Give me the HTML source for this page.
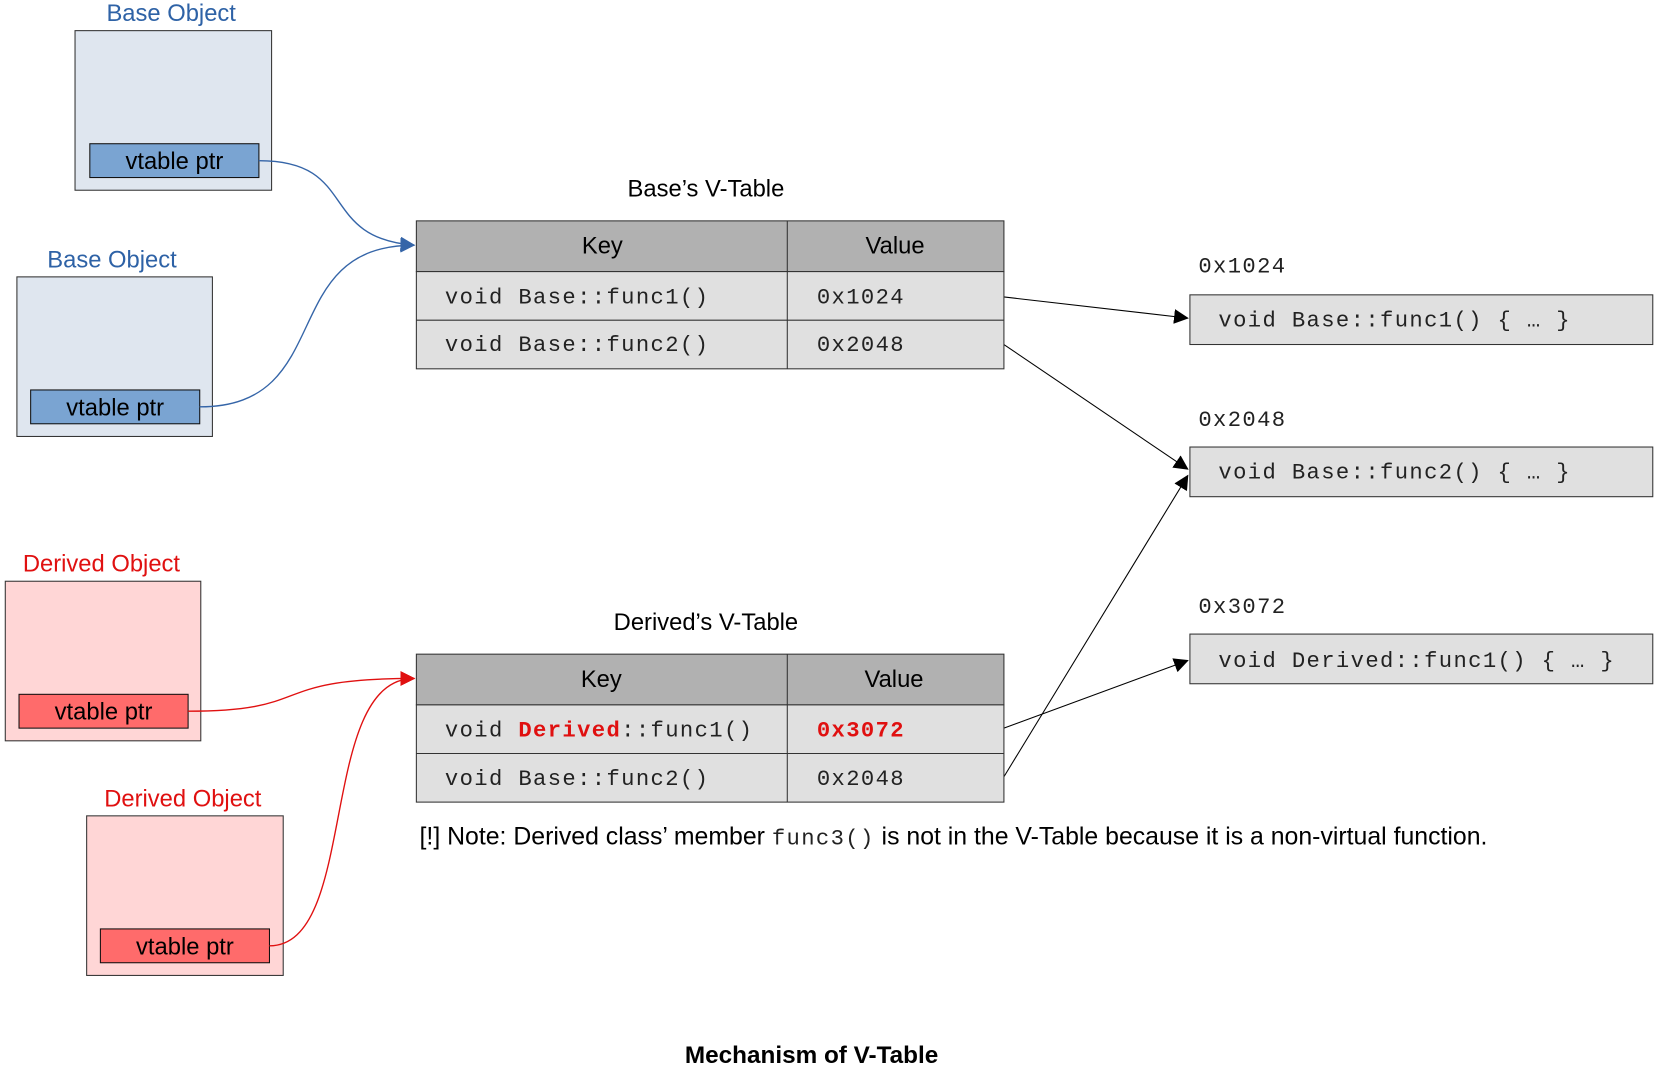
<!DOCTYPE html>
<html><head><meta charset="utf-8"><style>html,body{margin:0;padding:0;background:#fff;}svg{display:block}</style></head>
<body>
<svg width="1657" height="1068" viewBox="0 0 1568 1010.6" preserveAspectRatio="none" xmlns="http://www.w3.org/2000/svg">
<defs>
<marker id="ab" markerWidth="14" markerHeight="14" refX="13" refY="7" orient="auto" markerUnits="userSpaceOnUse"><path d="M0,0 L14,7 L0,14 z" fill="#3565a8"/></marker>
<marker id="ar" markerWidth="14" markerHeight="14" refX="13" refY="7" orient="auto" markerUnits="userSpaceOnUse"><path d="M0,0 L14,7 L0,14 z" fill="#e01010"/></marker>
<marker id="ak" markerWidth="14" markerHeight="14" refX="13" refY="7" orient="auto" markerUnits="userSpaceOnUse"><path d="M0,0 L14,7 L0,14 z" fill="#000"/></marker>
</defs>
<style>.m{font-family:"Liberation Mono",monospace;font-size:21px;letter-spacing:1.3px;fill:#222}</style>
<g font-family="Liberation Sans, sans-serif" font-size="22.5">
<text x="162" y="20" text-anchor="middle" fill="#2e62a6">Base Object</text>
<rect x="71" y="29" width="186" height="151" fill="#dfe6ef" stroke="#333"/>
<rect x="85" y="136" width="160" height="32" fill="#7aa4d2" stroke="#111"/>
<text x="165" y="160" text-anchor="middle">vtable ptr</text>
<text x="106" y="253" text-anchor="middle" fill="#2e62a6">Base Object</text>
<rect x="16" y="262" width="185" height="151" fill="#dfe6ef" stroke="#333"/>
<rect x="29" y="369" width="160" height="32" fill="#7aa4d2" stroke="#111"/>
<text x="109" y="393" text-anchor="middle">vtable ptr</text>
<text x="96" y="541" text-anchor="middle" fill="#e01010">Derived Object</text>
<rect x="5" y="550" width="185" height="151" fill="#ffd6d6" stroke="#333"/>
<rect x="18" y="657" width="160" height="32" fill="#ff6b6b" stroke="#111"/>
<text x="98" y="681" text-anchor="middle">vtable ptr</text>
<text x="173" y="763" text-anchor="middle" fill="#e01010">Derived Object</text>
<rect x="82" y="772" width="186" height="151" fill="#ffd6d6" stroke="#333"/>
<rect x="95" y="879" width="160" height="32" fill="#ff6b6b" stroke="#111"/>
<text x="175" y="903" text-anchor="middle">vtable ptr</text>
<path d="M245,152 C340,152 300,225 392,232" fill="none" stroke="#3565a8" stroke-width="1.3" marker-end="url(#ab)"/>
<path d="M189,385 C320,385 260,232 392,232" fill="none" stroke="#3565a8" stroke-width="1.3" marker-end="url(#ab)"/>
<path d="M178,673 C300,673 250,642 392,642" fill="none" stroke="#e01010" stroke-width="1.3" marker-end="url(#ar)"/>
<path d="M255,895 C340,895 300,642 392,642" fill="none" stroke="#e01010" stroke-width="1.3" marker-end="url(#ar)"/>
<line x1="950" y1="281" x2="1124" y2="301" stroke="#000" marker-end="url(#ak)"/>
<line x1="950" y1="326" x2="1124" y2="444" stroke="#000" marker-end="url(#ak)"/>
<line x1="950" y1="689" x2="1124" y2="625" stroke="#000" marker-end="url(#ak)"/>
<line x1="950" y1="735" x2="1124" y2="450" stroke="#000" marker-end="url(#ak)"/>
<text x="668" y="186" text-anchor="middle">Base’s V-Table</text>
<rect x="394" y="209" width="556" height="48" fill="#b1b1b1" stroke="#333"/>
<rect x="394" y="257" width="556" height="92" fill="#e0e0e0" stroke="#333"/>
<line x1="394" y1="303" x2="950" y2="303" stroke="#333"/>
<line x1="745" y1="209" x2="745" y2="349" stroke="#333"/>
<text x="570" y="240" text-anchor="middle">Key</text>
<text x="847" y="240" text-anchor="middle">Value</text>
<text class="m" x="421" y="287">void Base::func1()</text>
<text class="m" x="773" y="287">0x1024</text>
<text class="m" x="421" y="332">void Base::func2()</text>
<text class="m" x="773" y="332">0x2048</text>
<text x="668" y="596" text-anchor="middle">Derived’s V-Table</text>
<rect x="394" y="619" width="556" height="48" fill="#b1b1b1" stroke="#333"/>
<rect x="394" y="667" width="556" height="92" fill="#e0e0e0" stroke="#333"/>
<line x1="394" y1="713" x2="950" y2="713" stroke="#333"/>
<line x1="745" y1="619" x2="745" y2="759" stroke="#333"/>
<text x="569" y="650" text-anchor="middle">Key</text>
<text x="846" y="650" text-anchor="middle">Value</text>
<text class="m" x="421" y="697">void <tspan fill="#e01010" font-weight="bold">Derived</tspan>::func1()</text>
<text class="m" x="773" y="697" fill="#e01010" font-weight="bold" style="fill:#e01010">0x3072</text>
<text class="m" x="421" y="743">void Base::func2()</text>
<text class="m" x="773" y="743">0x2048</text>
<text class="m" x="1134" y="258">0x1024</text>
<text class="m" x="1134" y="403">0x2048</text>
<text class="m" x="1134" y="580">0x3072</text>
<rect x="1126" y="279" width="438" height="47" fill="#e0e0e0" stroke="#333"/>
<rect x="1126" y="423" width="438" height="47" fill="#e0e0e0" stroke="#333"/>
<rect x="1126" y="600" width="438" height="47" fill="#e0e0e0" stroke="#333"/>
<text class="m" x="1153" y="309">void Base::func1() { … }</text>
<text class="m" x="1153" y="453">void Base::func2() { … }</text>
<text class="m" x="1153" y="631">void Derived::func1() { … }</text>
<text x="397" y="799" font-size="23.5">[!] Note: Derived class’ member <tspan class="m" font-family="Liberation Mono, monospace" font-size="21" letter-spacing="1.3" fill="#333">func3()</tspan> is not in the V-Table because it is a non-virtual function.</text>
<text x="768" y="1006" text-anchor="middle" font-weight="bold" font-size="23">Mechanism of V-Table</text>
</g>
</svg>
</body></html>
